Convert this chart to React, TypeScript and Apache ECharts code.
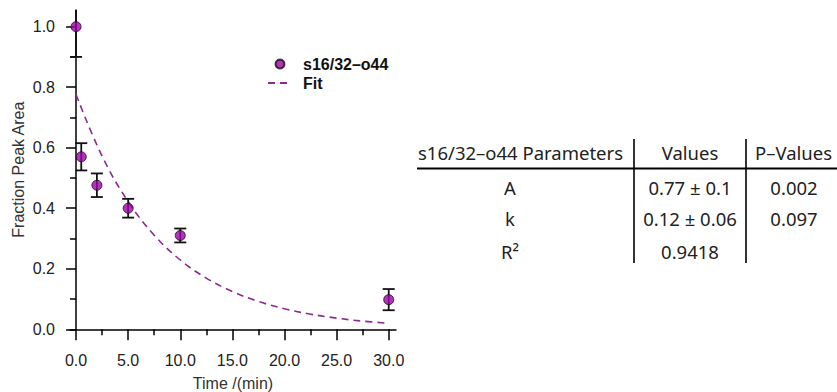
import React, { useEffect, useRef } from "react";
import * as echarts from "echarts";

const seriesName = "s16/32–o44";
const timeMin = [0, 0.5, 2, 5, 10, 30];
const fraction = [1.0, 0.57, 0.476, 0.4, 0.31, 0.098];
const errors = [0.1, 0.045, 0.039, 0.031, 0.023, 0.035];

const fitTime = [0, 2.5, 5, 7.5, 10, 12.5, 15, 17.5, 20, 22.5, 25, 27.5, 30];
const fitValue = [0.776, 0.572, 0.422, 0.311, 0.229, 0.169, 0.125, 0.092, 0.068, 0.05, 0.037, 0.027, 0.02];

const xMajorTicks = [0, 5, 10, 15, 20, 25, 30];
const xMinorTicks = [2.5, 7.5, 12.5, 17.5, 22.5, 27.5];
const yMajorTicks = [0, 0.2, 0.4, 0.6, 0.8, 1.0];
const yMinorTicks = [0.1, 0.3, 0.5, 0.7, 0.9];

const tableHeader = [`${seriesName} Parameters`, "Values", "P–Values"];
const tableParams = ["A", "k", "R²"];
const tableValues = ["0.77 ± 0.1", "0.12 ± 0.06", "0.9418"];
const tablePValues = ["0.002", "0.097", ""];

const X_MIN = -0.58;
const X_MAX = 30.7;
const Y_MIN = 0;
const Y_MAX = 1.055;

const FONT = "'Liberation Sans', Arial, sans-serif";
const TFONT = "'Noto Sans', sans-serif";
const PURPLE = "#a000aa";
const FIT = "#8e2a8e";

export default function App() {
  const ref = useRef<HTMLDivElement>(null);
  useEffect(() => {
    if (!ref.current) return;
    const chart = echarts.init(ref.current, undefined, { renderer: "svg" });

    const axisLine = { show: true, lineStyle: { color: "#000", width: 1.5 } };
    const labelStyle = { fontSize: 16, color: "#222", fontFamily: FONT };
    const tfont = `18.5px ${TFONT}`;

    const rowsY = [187, 218, 251];
    const graphics: any[] = [];
    graphics.push({
      type: "text", x: 418, y: 152,
      style: { text: tableHeader[0], font: tfont, fill: "#222", align: "left", verticalAlign: "middle" },
    });
    graphics.push({
      type: "text", x: 690, y: 152,
      style: { text: tableHeader[1], font: tfont, fill: "#222", align: "center", verticalAlign: "middle" },
    });
    graphics.push({
      type: "text", x: 755, y: 152,
      style: { text: tableHeader[2], font: tfont, fill: "#222", align: "left", verticalAlign: "middle" },
    });
    tableParams.forEach((p, i) => {
      graphics.push({
        type: "text", x: 510, y: rowsY[i],
        style: { text: p, font: tfont, fill: "#222", align: "center", verticalAlign: "middle" },
      });
      graphics.push({
        type: "text", x: 690, y: rowsY[i],
        style: { text: tableValues[i], font: tfont, fill: "#222", align: "center", verticalAlign: "middle" },
      });
      if (tablePValues[i]) {
        graphics.push({
          type: "text", x: 794, y: rowsY[i],
          style: { text: tablePValues[i], font: tfont, fill: "#222", align: "center", verticalAlign: "middle" },
        });
      }
    });
    graphics.push({
      type: "line", shape: { x1: 417, y1: 168.5, x2: 837, y2: 168.5 },
      style: { stroke: "#000", lineWidth: 2 },
    });
    [634, 746].forEach((x) => {
      graphics.push({
        type: "line", shape: { x1: x, y1: 139, x2: x, y2: 263 },
        style: { stroke: "#000", lineWidth: 1.6 },
      });
    });

    chart.setOption({
      animation: false,
      grid: {
        left: 70, right: 837 - 396, top: 10, bottom: 392 - 329.3,
        containLabel: false, outerBoundsMode: "none",
      },
      legend: {
        data: [
          { name: seriesName },
          { name: "Fit", itemStyle: { color: "rgba(0,0,0,0)", borderWidth: 0, opacity: 0 } },
        ],
        orient: "vertical",
        left: 262,
        top: 51,
        itemWidth: 24,
        itemHeight: 9,
        itemGap: 3,
        textStyle: { fontSize: 16, fontWeight: "bold", color: "#111", fontFamily: FONT, padding: [0, 0, 0, 6] },
      },
      xAxis: [
        {
          type: "value", min: X_MIN, max: X_MAX, position: "bottom", offset: 6,
          axisLine,
          axisTick: { show: true, customValues: xMajorTicks, length: 11, lineStyle: { color: "#000", width: 1.5 } },
          axisLabel: { ...labelStyle, customValues: xMajorTicks, margin: 17, formatter: (v: number) => v.toFixed(1) },
          splitLine: { show: false },
          name: "Time /(min)", nameLocation: "middle", nameGap: 40,
          nameTextStyle: { fontSize: 16, color: "#333", fontFamily: FONT },
        },
        {
          type: "value", min: X_MIN, max: X_MAX, position: "bottom", offset: 6,
          axisLine: { show: false },
          axisTick: { show: true, customValues: xMinorTicks, length: 6, lineStyle: { color: "#000", width: 1.5 } },
          axisLabel: { show: false },
          splitLine: { show: false },
        },
      ],
      yAxis: [
        {
          type: "value", min: Y_MIN, max: Y_MAX, position: "left",
          axisLine,
          axisTick: { show: true, customValues: yMajorTicks, length: 10, lineStyle: { color: "#000", width: 1.5 } },
          axisLabel: { ...labelStyle, customValues: yMajorTicks, margin: 15, formatter: (v: number) => v.toFixed(1) },
          splitLine: { show: false },
          name: "Fraction Peak Area", nameLocation: "middle", nameGap: 44,
          nameTextStyle: { fontSize: 16, color: "#333", fontFamily: FONT },
        },
        {
          type: "value", min: Y_MIN, max: Y_MAX, position: "left",
          axisLine: { show: false },
          axisTick: { show: true, customValues: yMinorTicks, length: 6, lineStyle: { color: "#000", width: 1.5 } },
          axisLabel: { show: false },
          splitLine: { show: false },
        },
      ],
      series: [
        {
          name: "Fit",
          type: "line",
          data: fitTime.map((t, i) => [t, fitValue[i]]),
          smooth: 0.4,
          showSymbol: false,
          symbol: "none",
          lineStyle: { color: FIT, width: 1.6, type: [7, 5] },
          itemStyle: { color: FIT },
          z: 2,
        },
        {
          name: "errorbars",
          type: "custom",
          data: timeMin.map((t, i) => [t, fraction[i] - errors[i], fraction[i] + errors[i]]),
          renderItem: (params: any, api: any) => {
            const x = api.value(0);
            const lo = api.value(1);
            const hi = api.value(2);
            const clipped = hi > Y_MAX;
            const pLo = api.coord([x, lo]);
            const pHi = api.coord([x, Math.min(hi, Y_MAX)]);
            const hw = 6;
            const st = { stroke: "#111", lineWidth: 1.8 };
            const children: any[] = [
              { type: "line", shape: { x1: pLo[0], y1: pLo[1], x2: pHi[0], y2: pHi[1] }, style: st },
              { type: "line", shape: { x1: pLo[0] - hw, y1: pLo[1], x2: pLo[0] + hw, y2: pLo[1] }, style: st },
            ];
            if (!clipped) {
              children.push({ type: "line", shape: { x1: pHi[0] - hw, y1: pHi[1], x2: pHi[0] + hw, y2: pHi[1] }, style: st });
            }
            return { type: "group", children };
          },
          z: 3,
        },
        {
          name: seriesName,
          type: "scatter",
          data: timeMin.map((t, i) => [t, fraction[i]]),
          symbol: "circle",
          symbolSize: 10,
          itemStyle: { color: PURPLE, borderColor: "#111", borderWidth: 1 },
          z: 4,
        },
      ],
      graphic: graphics,
    });
    return () => chart.dispose();
  }, []);
  return <div ref={ref} style={{ width: 837, height: 392, position: "absolute", left: 0, top: 0 }} />;
}
